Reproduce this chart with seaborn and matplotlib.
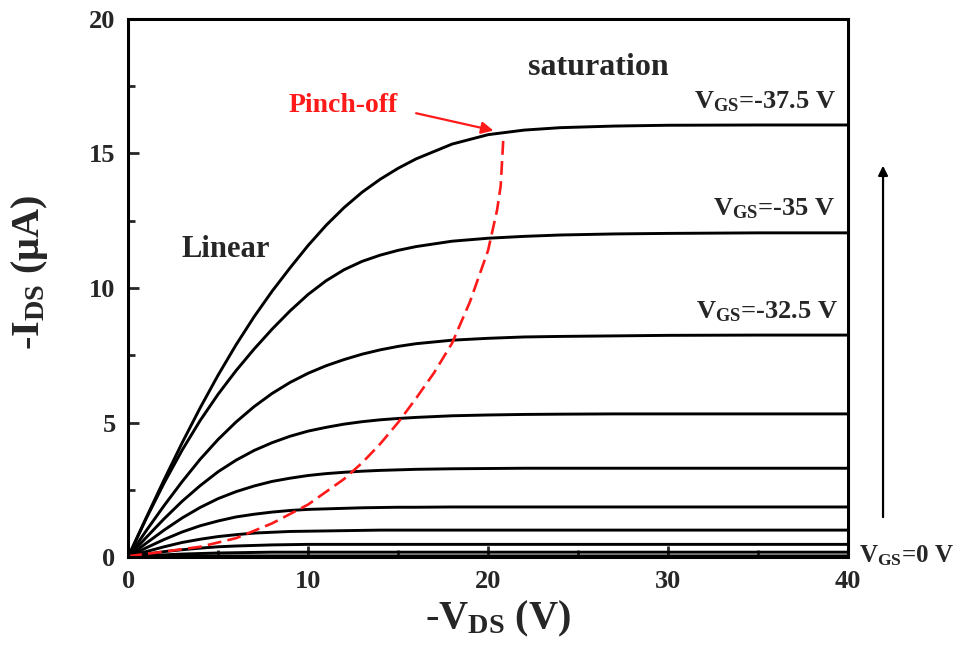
import matplotlib
matplotlib.use("Agg")
import matplotlib.pyplot as plt
import seaborn as sns

# Output characteristics: -I_DS (uA) vs -V_DS (V)
vds = [0, 1, 2, 3, 4, 5, 6, 7, 8, 9, 10, 11, 12, 13, 14, 15, 16, 18, 20, 22, 24, 27, 30, 35, 40]

ids_vgs_37_5 = [0, 1.45, 2.87, 4.24, 5.54, 6.76, 7.89, 8.93, 9.88, 10.75, 11.58, 12.33, 12.99,
                13.56, 14.04, 14.45, 14.8, 15.35, 15.7, 15.87, 15.96, 16.02, 16.05, 16.06, 16.06]
ids_vgs_35 = [0, 1.42, 2.75, 3.97, 5.07, 6.05, 6.93, 7.73, 8.47, 9.15, 9.76, 10.27, 10.68,
              10.99, 11.22, 11.4, 11.54, 11.74, 11.85, 11.92, 11.97, 12.01, 12.03, 12.05, 12.05]
ids_vgs_32_5 = [0, 0.97, 1.91, 2.80, 3.63, 4.37, 5.02, 5.59, 6.08, 6.49, 6.83, 7.11, 7.34,
                7.54, 7.70, 7.83, 7.93, 8.06, 8.13, 8.18, 8.2, 8.22, 8.24, 8.25, 8.25]
ids_vgs_30 = [0, 0.72, 1.42, 2.07, 2.65, 3.17, 3.60, 3.96, 4.25, 4.49, 4.68, 4.82, 4.94,
              5.03, 5.10, 5.15, 5.19, 5.25, 5.28, 5.30, 5.31, 5.32, 5.32, 5.32, 5.32]
ids_vgs_27_5 = [0, 0.51, 1.00, 1.45, 1.84, 2.17, 2.43, 2.64, 2.81, 2.93, 3.03, 3.10, 3.15,
                3.19, 3.22, 3.24, 3.26, 3.28, 3.29, 3.30, 3.30, 3.30, 3.30, 3.30, 3.30]
ids_vgs_25 = [0, 0.34, 0.65, 0.93, 1.16, 1.34, 1.49, 1.59, 1.67, 1.73, 1.77, 1.79, 1.81,
              1.83, 1.84, 1.85, 1.85, 1.86, 1.86, 1.86, 1.86, 1.86, 1.86, 1.86, 1.86]
ids_vgs_22_5 = [0, 0.20, 0.38, 0.54, 0.66, 0.76, 0.83, 0.89, 0.92, 0.95, 0.96, 0.97, 0.98,
                0.99, 1.0, 1.0, 1.0, 1.0, 1.0, 1.0, 1.0, 1.0, 1.0, 1.0, 1.0]
ids_vgs_20 = [0, 0.10, 0.20, 0.27, 0.33, 0.38, 0.41, 0.43, 0.45, 0.46, 0.47, 0.47, 0.47,
              0.47, 0.47, 0.47, 0.47, 0.47, 0.47, 0.47, 0.47, 0.47, 0.47, 0.47, 0.47]
ids_vgs_10 = [0, 0.04, 0.08, 0.11, 0.13, 0.15, 0.16, 0.17, 0.18, 0.18, 0.18, 0.18, 0.18,
              0.18, 0.18, 0.18, 0.18, 0.18, 0.18, 0.18, 0.18, 0.18, 0.18, 0.18, 0.18]
ids_vgs_0 = [0, 0.01, 0.02, 0.03, 0.04, 0.04, 0.04, 0.04, 0.04, 0.04, 0.04, 0.04, 0.04,
             0.04, 0.04, 0.04, 0.04, 0.04, 0.04, 0.04, 0.04, 0.04, 0.04, 0.04, 0.04]

curves = [ids_vgs_37_5, ids_vgs_35, ids_vgs_32_5, ids_vgs_30, ids_vgs_27_5,
          ids_vgs_25, ids_vgs_22_5, ids_vgs_20, ids_vgs_10, ids_vgs_0]

# pinch-off locus (red dashed)
pinch_vds = [0, 2, 4, 6, 8, 10, 12, 13, 14, 15, 16, 17, 18, 19, 20, 20.5, 20.7, 20.85]
pinch_ids = [0.03, 0.2, 0.38, 0.7, 1.25, 1.95, 2.9, 3.5, 4.2, 5.0, 5.9, 6.85, 7.95, 9.5, 11.4,
             12.9, 13.8, 15.6]

sns.set_style("ticks")
plt.rcParams["font.family"] = ["Liberation Serif", "DejaVu Serif"]
plt.rcParams["font.weight"] = "bold"
plt.rcParams["mathtext.fontset"] = "custom"
plt.rcParams["mathtext.rm"] = "Liberation Serif:bold"
plt.rcParams["mathtext.it"] = "Liberation Serif:bold"
plt.rcParams["mathtext.bf"] = "Liberation Serif:bold"
plt.rcParams["lines.scale_dashes"] = False

fig = plt.figure(figsize=(9.63, 6.55), dpi=100)
ax = fig.add_axes([0.133, 0.1496, 0.7477, 0.8214])

for ids in curves:
    sns.lineplot(x=vds, y=ids, ax=ax, color="black", linewidth=2.1)

sns.lineplot(x=pinch_vds, y=pinch_ids, ax=ax, color="#ff1a1a", linewidth=1.9)
ax.lines[-1].set_dashes([10, 4.5])

ax.set_xlim(0, 40)
ax.set_ylim(0, 20)
ax.set_xticks([0, 10, 20, 30, 40])
ax.set_xticks([5, 15, 25, 35], minor=True)
ax.set_yticks([0, 5, 10, 15, 20])
ax.set_yticks([2.5, 7.5, 12.5, 17.5], minor=True)
ax.tick_params(which="both", direction="in", width=2.0, top=False, right=False)
ax.tick_params(which="major", length=8, labelsize=19, pad=9)
ax.tick_params(which="minor", length=5)
for lbl in ax.get_xticklabels() + ax.get_yticklabels():
    lbl.set_fontweight("bold")
for sp in ax.spines.values():
    sp.set_linewidth(2.2)
    sp.set_color("black")

ax.set_xlabel(r"-V$_{\mathrm{DS}}$ (V)", fontsize=29, fontweight="bold")
ax.set_ylabel(r"-I$_{\mathrm{DS}}$ (μA)", fontsize=29, fontweight="bold")
ax.xaxis.set_label_coords(0.514, -0.078)
ax.yaxis.set_label_coords(-0.108, 0.53)

ax.text(2.94, 11.16, "Linear", fontsize=22, fontweight="bold")
ax.text(22.2, 17.92, "saturation", fontsize=23, fontweight="bold")
ax.text(8.89, 16.55, "Pinch-off", fontsize=20, fontweight="bold", color="#ff1a1a")

ax.text(39.3, 16.69, r"V$_{\mathrm{GS}}$=-37.5 V", fontsize=19, fontweight="bold", ha="right")
ax.text(39.3, 12.71, r"V$_{\mathrm{GS}}$=-35 V", fontsize=19, fontweight="bold", ha="right")
ax.text(39.4, 8.88, r"V$_{\mathrm{GS}}$=-32.5 V", fontsize=19, fontweight="bold", ha="right")
ax.text(40.6, -0.19, r"V$_{\mathrm{GS}}$=0 V", fontsize=18, fontweight="bold", clip_on=False)

ax.annotate("", xy=(20.45, 15.83), xytext=(15.85, 16.52),
            arrowprops=dict(arrowstyle="-|>", color="#ff1a1a", lw=1.6, mutation_scale=18))
ax.annotate("", xy=(41.94, 14.65), xytext=(41.94, 1.38), annotation_clip=False,
            arrowprops=dict(arrowstyle="-|>", color="black", lw=1.6, mutation_scale=14))

fig.savefig("out.png", dpi=100)
